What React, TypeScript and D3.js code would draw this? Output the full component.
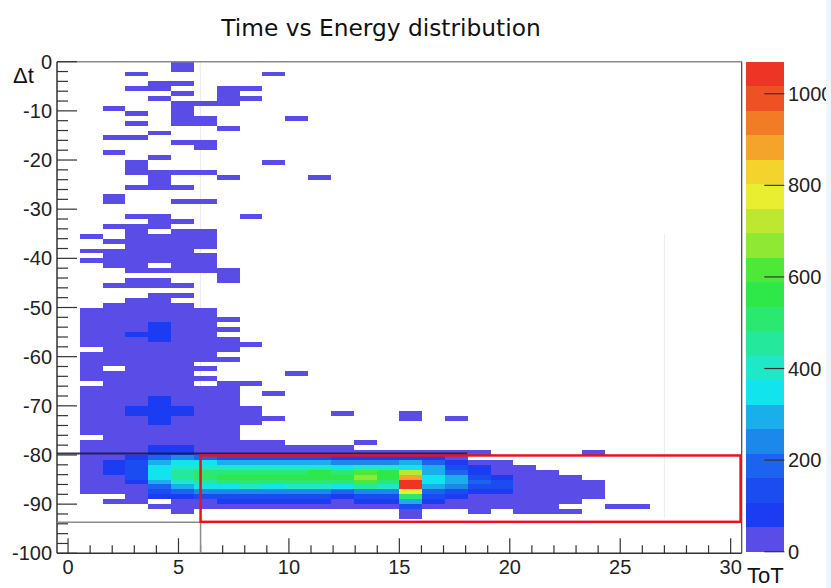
import React from 'react';
import * as d3 from 'd3';

const W = 831;
const H = 588;

// histogram definition (TH2: 30 bins in ToT, 100 bins in Δt)
const NX = 30;
const X_MIN = -0.5;
const X_MAX = 30.5;
const NY = 100;
const Y_MIN = -100;
const Y_MAX = 0;
const Z_MAX = 1070;

// estimated counts for each colour level of the palette
const levelCounts = [25, 80, 135, 190, 240, 295, 350, 400, 455, 510, 560, 615, 670, 720, 775, 830, 880, 935, 990, 1045];

const paletteColors = [
  '#5a4ce6', '#1c3cf4', '#1b4cf2', '#1c64f0', '#1b88ea',
  '#1aaeea', '#12e4ee', '#1ee8c8', '#24e89c', '#2ae870',
  '#2ee84a', '#4ee838', '#8ee834', '#bce832', '#eaee30',
  '#f4d42c', '#f4a42a', '#f27c26', '#ee5224', '#ee3424',
];

// one string per Δt bin (0..-1 first); one character per ToT bin; '.' = empty, else colour level (base 20)
const cellRows: string[] = [
  '.....0........................',
  '.....0........................',
  '...0.....0....................',
  '..............................',
  '....00........................',
  '...00..00.....................',
  '.....0.0......................',
  '....0..00.....................',
  '.....000......................',
  '..0..0........................',
  '...0.0........................',
  '.....00...0...................',
  '...0.00.......................',
  '.......0......................',
  '....0.........................',
  '..00..........................',
  '.....00.......................',
  '......0.......................',
  '..0...........................',
  '....0.........................',
  '...0.....0....................',
  '...0..........................',
  '...0000.......................',
  '....0..0...0..................',
  '....0.........................',
  '...000........................',
  '..............................',
  '..0...........................',
  '..0..00.......................',
  '..............................',
  '..............................',
  '...00...0.....................',
  '....00........................',
  '..000.........................',
  '...0.00.......................',
  '.0.0000.......................',
  '..00000.......................',
  '...0000.......................',
  '.00000........................',
  '..00000.......................',
  '.000000.......................',
  '..00.00.......................',
  '...00000......................',
  '.......0......................',
  '...00..0......................',
  '..0000........................',
  '..............................',
  '....00........................',
  '...00.........................',
  '..0000........................',
  '.000000.......................',
  '.000000.......................',
  '.0000000......................',
  '.000100.......................',
  '.0001000......................',
  '.001100.......................',
  '.0001000......................',
  '.00000000.....................',
  '..000000......................',
  '.000000.......................',
  '.0000000......................',
  '.00000........................',
  '.0.0000.......................',
  '.00000....0...................',
  '.000000.......................',
  '..0000.00.....................',
  '.0000000......................',
  '.0000000.0....................',
  '.0001000......................',
  '.0001000......................',
  '.00111000.....................',
  '.00111000...0..0..............',
  '.000100000.....0.0............',
  '.00010000.....................',
  '.0000000......................',
  '.0000000......................',
  '..000000......................',
  '.000000000...0................',
  '.000110000000.................',
  '.000110000000000000....0.......',
  '.00134322222111110............',
  '.0125665555544453100..........',
  '.01267777777677652100.........',
  '.0126899999a9bad531000........',
  '.002689aaaaaacag6521000.......',
  '.001578999999b9j65320000......',
  '.00035667677687j54220000......',
  '.00023444444344e32110000......',
  '...011222222122921000000......',
  '..00.001111101151000000.......',
  '....000000000002000000..00....',
  '.....0.........0..0.000.......',
  '...............0..............',
  '..............................',
  '..............................',
  '..............................',
  '..............................',
  '..............................',
  '..............................',
  '..............................',
];

const yMajorTicks = [0, -10, -20, -30, -40, -50, -60, -70, -80, -90, -100];
const xMajorTicks = [0, 5, 10, 15, 20, 25, 30];
const zTicks = [0, 200, 400, 600, 800, 1000];

const TITLE = 'Time vs Energy distribution';
const X_TITLE = 'ToT';
const Y_TITLE = 'Δt';

export default function App() {
  const xs = d3.scaleLinear().domain([X_MIN, X_MAX]).range([57, 741.7]);
  const ys = d3.scaleLinear().domain([Y_MIN, Y_MAX]).range([553.3, 61.7]);
  const zs = d3.scaleLinear().domain([0, Z_MAX]).range([551.7, 61.7]);
  const color = d3.scaleQuantize<string>().domain([0, Z_MAX]).range(paletteColors);

  const bw = (X_MAX - X_MIN) / NX;
  const bh = (Y_MAX - Y_MIN) / NY;

  const cells: { x: number; y: number; w: number; h: number; fill: string; key: string }[] = [];
  cellRows.forEach((row, r) => {
    for (let c = 0; c < row.length; c++) {
      const ch = row[c];
      if (ch === '.') continue;
      const count = levelCounts[parseInt(ch, 20)];
      const x0 = X_MIN + c * bw;
      const x1 = x0 + bw;
      const yTop = Y_MAX - r * bh;
      const yBot = yTop - bh;
      const px0 = Math.round(xs(x0));
      const px1 = Math.round(xs(x1));
      const py0 = Math.round(ys(yTop));
      const py1 = Math.round(ys(yBot));
      cells.push({ x: px0, y: py0, w: px1 - px0, h: py1 - py0, fill: color(count), key: `${r}-${c}` });
    }
  });

  const yTicks = d3.range(Y_MIN, Y_MAX + 1, 2);
  const xTicks = d3.range(0, 31, 1);
  const zBands = d3.range(paletteColors.length).map((k) => {
    const lo = (k * Z_MAX) / paletteColors.length;
    const hi = ((k + 1) * Z_MAX) / paletteColors.length;
    return { lo, hi, fill: color((lo + hi) / 2) };
  });

  const fontTicks = '"Liberation Sans", Arial, sans-serif';
  const left = xs(X_MIN);
  const right = xs(X_MAX);
  const top = ys(Y_MAX);
  const bottom = ys(Y_MIN);
  const cbLeft = 745.7;
  const cbRight = 784.3;

  return (
    <svg
      width={W}
      height={H}
      viewBox={`0 0 ${W} ${H}`}
      style={{ position: 'absolute', left: 0, top: 0, background: '#fff' }}
    >
      <rect x={0} y={0} width={W} height={H} fill="#fff" />

      <text
        x={381}
        y={36}
        textAnchor="middle"
        fontFamily='"DejaVu Sans", sans-serif'
        fontSize={23.3}
        fill="#111"
      >
        {TITLE}
      </text>

      {/* faint artefact lines */}
      <line x1={xs(6)} x2={xs(6)} y1={top} y2={ys(-80)} stroke="#ececec" strokeWidth={1} />
      <line x1={xs(27)} x2={xs(27)} y1={ys(-35)} y2={ys(-93)} stroke="#ececec" strokeWidth={1} />

      <g shapeRendering="crispEdges">
        {cells.map((d) => (
          <rect key={d.key} x={d.x} y={d.y} width={d.w} height={d.h} fill={d.fill} />
        ))}
      </g>

      {/* frame */}
      <line x1={left} x2={right} y1={top} y2={top} stroke="#8a8a8a" strokeWidth={1.5} />
      <line x1={right} x2={right} y1={top} y2={bottom} stroke="#444" strokeWidth={1.2} />
      <line x1={left} x2={left} y1={top} y2={bottom} stroke="#333" strokeWidth={1.5} />
      <line x1={left} x2={right} y1={bottom} y2={bottom} stroke="#333" strokeWidth={1.5} />

      {/* y ticks */}
      {yTicks.map((v) => {
        const major = v % 10 === 0;
        return (
          <line
            key={`yt${v}`}
            x1={left}
            x2={left + (major ? 20 : 11)}
            y1={ys(v)}
            y2={ys(v)}
            stroke="#333"
            strokeWidth={1.2}
          />
        );
      })}
      {yMajorTicks.map((v) => (
        <text
          key={`yl${v}`}
          x={52}
          y={ys(v) + 7}
          textAnchor="end"
          fontFamily={fontTicks}
          fontSize={20}
          fill="#222"
        >
          {String(v)}
        </text>
      ))}

      {/* x ticks */}
      {xTicks.map((v) => {
        const major = v % 5 === 0;
        return (
          <line
            key={`xt${v}`}
            x1={xs(v)}
            x2={xs(v)}
            y1={bottom}
            y2={bottom - (major ? 15 : 8)}
            stroke="#333"
            strokeWidth={1.2}
          />
        );
      })}
      {xMajorTicks.map((v) => (
        <text
          key={`xl${v}`}
          x={xs(v)}
          y={574}
          textAnchor="middle"
          fontFamily={fontTicks}
          fontSize={20}
          fill="#222"
        >
          {String(v)}
        </text>
      ))}

      {/* annotation lines */}
      <line x1={left} x2={xs(18.07)} y1={ys(-79.7)} y2={ys(-79.7)} stroke="#1a1a3a" strokeWidth={2} opacity={0.85} />
      <line x1={left} x2={xs(6)} y1={ys(-93.7)} y2={ys(-93.7)} stroke="#8a8a8a" strokeWidth={1.5} />
      <line x1={xs(6)} x2={xs(6)} y1={ys(-93.7)} y2={bottom} stroke="#8a8a8a" strokeWidth={1.5} />
      <rect
        x={xs(6)}
        y={ys(-80.1)}
        width={xs(30.45) - xs(6)}
        height={ys(-93.6) - ys(-80.1)}
        fill="none"
        stroke="#e8141c"
        strokeWidth={2.5}
      />

      {/* axis titles */}
      <text x={13} y={83} fontFamily={fontTicks} fontSize={22} fill="#111">
        {Y_TITLE}
      </text>
      <text x={747} y={583} fontFamily={fontTicks} fontSize={22} fill="#111">
        {X_TITLE}
      </text>

      {/* colour bar */}
      <g shapeRendering="crispEdges">
        {zBands.map((b, i) => (
          <rect
            key={`cb${i}`}
            x={cbLeft}
            y={Math.round(zs(b.hi))}
            width={cbRight - cbLeft}
            height={Math.round(zs(b.lo)) - Math.round(zs(b.hi))}
            fill={b.fill}
          />
        ))}
      </g>
      {zTicks.map((v) => (
        <g key={`zt${v}`}>
          <line x1={cbRight - 20} x2={cbRight} y1={zs(v)} y2={zs(v)} stroke="#333" strokeWidth={1.2} />
          <text x={788} y={zs(v) + 7} fontFamily={fontTicks} fontSize={20} fill="#222">
            {String(v)}
          </text>
        </g>
      ))}

      <rect x={826} y={0} width={5} height={H} fill="#eef6fb" />
    </svg>
  );
}
